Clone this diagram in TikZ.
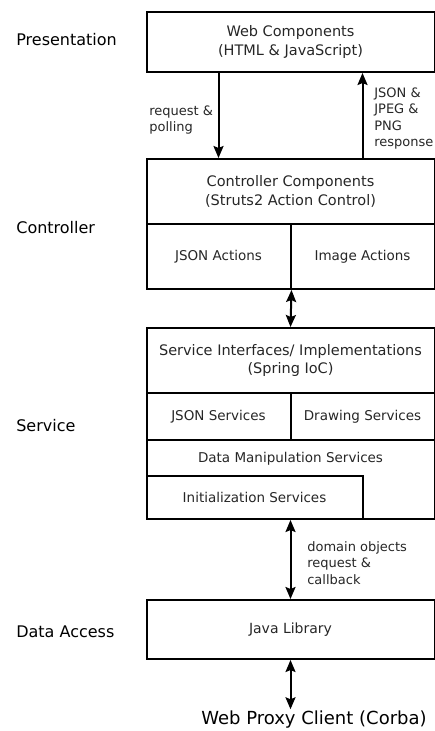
\documentclass[tikz,border=0pt]{standalone}
\usepackage{fontspec}
\setmainfont{DejaVu Sans}
\usetikzlibrary{arrows.meta,positioning}

\begin{document}
\begin{tikzpicture}[x=1pt, y=-1pt, >={Stealth[length=12pt,width=10pt,inset=2pt]}, line width=2pt,
    box/.style={draw, inner sep=0pt, align=center, text=black!85,
        font=\fontsize{14.5}{18.5}\selectfont},
    layer/.style={anchor=west, font=\fontsize{16}{18}\selectfont},
    note/.style={anchor=west, align=left, text=black!85,
        font=\fontsize{13}{16.5}\selectfont}]
    \useasboundingbox (0,0) rectangle (435,731);

    % Schichten links
    \node[layer] (lpres) at (12,40) {Presentation};
    \node[layer] (lctrl) at (12,228) {Controller};
    \node[layer] (lsvc) at (12,426) {Service};
    \node[layer] (ldata) at (12,632) {Data Access};

    % Presentation
    \node[box, minimum width=288pt, minimum height=60pt] (web) at (290.5,42)
        {Web Components\\(HTML \& JavaScript)};

    % Controller
    \node[box, minimum width=288pt, minimum height=65pt] (ctrl) at (290.5,191.5)
        {Controller Components\\(Struts2 Action Control)};
    \node[box, minimum width=144pt, minimum height=65pt,
        font=\fontsize{13.5}{18}\selectfont] (jsonact) at (218.5,256.5) {JSON Actions};
    \node[box, minimum width=144pt, minimum height=65pt,
        font=\fontsize{13.5}{18}\selectfont] (imgact) at (362.5,256.5) {Image Actions};

    % Service
    \node[box, minimum width=288pt, minimum height=65pt] (svc) at (290.5,360.5)
        {Service Interfaces/ Implementations\\(Spring IoC)};
    \node[box, minimum width=144pt, minimum height=47pt,
        font=\fontsize{13.5}{18}\selectfont] (jsonsvc) at (218.5,416.5) {JSON Services};
    \node[box, minimum width=144pt, minimum height=47pt,
        font=\fontsize{13.5}{18}\selectfont] (drawsvc) at (362.5,416.5) {Drawing Services};
    \node[box, minimum width=288pt, minimum height=79pt] (data) at (290.5,479.5) {};
    \node[box, draw=none, font=\fontsize{13.5}{18}\selectfont] (datatxt) at (290.5,459)
        {Data Manipulation Services};
    \node[box, minimum width=216pt, minimum height=43pt,
        font=\fontsize{13.5}{18}\selectfont] (init) at (254.5,497.5) {Initialization Services};

    % Data Access
    \node[box, minimum width=288pt, minimum height=59pt,
        font=\fontsize{14}{18}\selectfont] (java) at (290.5,629.5) {Java Library};
    \node[font=\fontsize{18}{20}\selectfont, inner sep=1pt] (proxy) at (314,720) {Web Proxy Client (Corba)};

    % Pfeile
    \draw[->] (web.south -| jsonact) -- (ctrl.north -| jsonact);
    \draw[->] (ctrl.north -| imgact) -- (web.south -| imgact);
    \draw[<->] (jsonact.south east) -- (svc.north);
    \draw[<->] (data.south) -- (java.north);
    \draw[<->] (java.south) -- (java.south |- proxy.north);

    % Beschriftungen der Pfeile
    \node[note] (lreq) at (145,120) {request \&\\polling};
    \node[note] (lresp) at (370,118.5) {JSON \&\\JPEG \&\\PNG\\response};
    \node[note] (ldom) at (303,563) {domain objects\\request \&\\callback};
\end{tikzpicture}
\end{document}
